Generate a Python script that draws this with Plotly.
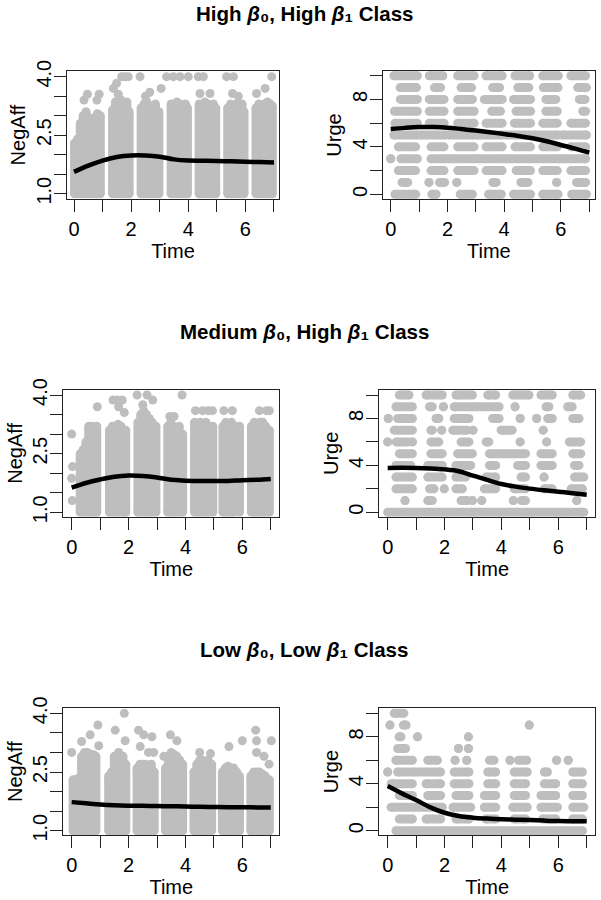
import plotly.graph_objects as go

# ---------------- data ----------------
TITLES = ["High", "Medium", "Low"]
TITLE_B1 = ["High", "High", "Low"]

TIME_TICKS = [0, 1, 2, 3, 4, 5, 6, 7]
TIME_LABEL_VALS = [0, 2, 4, 6]
TIME_LABELS = ["0", "2", "4", "6"]
NEG_TICKS = [1.0, 1.5, 2.0, 2.5, 3.0, 3.5, 4.0]
NEG_LABEL_VALS = [1.0, 2.5, 4.0]
NEG_LABELS = ["1.0", "2.5", "4.0"]
URGE_TICKS = [0, 2, 4, 6, 8, 10]
URGE_LABEL_VALS = [0, 4, 8]
URGE_LABELS = ["0", "4", "8"]

# smoothed trajectories (read at t = 0, 0.5, ..., 7)
FIT_T = [0, 0.5, 1, 1.5, 2, 2.5, 3, 3.5, 4, 4.5, 5, 5.5, 6, 6.5, 7]
HH_NEG_FIT = [1.56, 1.72, 1.85, 1.94, 1.98, 1.98, 1.95, 1.88, 1.85, 1.845, 1.84, 1.83, 1.82, 1.81, 1.80]
HH_URGE_FIT = [5.5, 5.6, 5.67, 5.67, 5.62, 5.5, 5.37, 5.23, 5.08, 4.92, 4.72, 4.47, 4.16, 3.85, 3.51]
MH_NEG_FIT = [1.63, 1.75, 1.84, 1.91, 1.94, 1.93, 1.89, 1.83, 1.81, 1.80, 1.80, 1.80, 1.82, 1.83, 1.85]
MH_URGE_FIT = [3.78, 3.79, 3.78, 3.74, 3.66, 3.5, 3.13, 2.76, 2.41, 2.19, 2.02, 1.88, 1.76, 1.63, 1.5]
LL_NEG_FIT = [1.73, 1.70, 1.67, 1.65, 1.64, 1.635, 1.63, 1.625, 1.62, 1.61, 1.605, 1.60, 1.60, 1.595, 1.59]
LL_URGE_FIT = [3.8, 3.18, 2.61, 1.99, 1.53, 1.25, 1.11, 1.03, 0.97, 0.94, 0.91, 0.86, 0.82, 0.81, 0.80]

# NegAff point clouds: dense columns (time, top value; each column spans down to 1.0) + isolated points
HH_NEG_COL_T = [0.02, 0.12, 0.22, 0.32, 0.42, 0.52, 0.62, 0.72, 0.82, 0.92,
                1.35, 1.45, 1.55, 1.65, 1.75, 1.85, 1.93,
                2.35, 2.45, 2.55, 2.65, 2.75, 2.85, 2.97,
                3.40, 3.50, 3.60, 3.70, 3.80, 3.90, 3.97,
                4.38, 4.48, 4.58, 4.68, 4.78, 4.88, 4.96,
                5.38, 5.48, 5.58, 5.68, 5.78, 5.88, 5.95,
                6.37, 6.47, 6.57, 6.67, 6.77, 6.87, 6.94]
HH_NEG_COL_TOP = [2.3, 2.4, 2.8, 3.0, 3.1, 2.95, 2.9, 2.95, 3.05, 3.0,
                  3.15, 3.35, 3.3, 3.4, 3.3, 3.35, 3.1,
                  3.2, 3.3, 3.35, 3.25, 3.2, 3.3, 3.1,
                  3.3, 3.25, 3.35, 3.3, 3.2, 3.3, 3.2,
                  3.3, 3.2, 3.35, 3.3, 3.25, 3.3, 3.2,
                  3.2, 3.3, 3.25, 3.3, 3.2, 3.3, 3.1,
                  3.2, 3.3, 3.25, 3.3, 3.35, 3.3, 3.25]
HH_NEG_PT_T = [0.35, 0.47, 0.80, 0.88, 1.38, 1.49, 1.55, 1.67, 1.78, 1.90, 2.31, 2.50, 2.65,
               3.05, 3.24, 3.48, 3.71, 4.00, 4.35, 4.53, 4.41, 4.76, 5.34, 5.58, 5.55, 5.75,
               6.39, 6.69, 6.92]
HH_NEG_PT_V = [3.4, 3.55, 3.4, 3.55, 3.7, 3.83, 3.55, 4.0, 4.0, 4.0, 4.0, 3.5, 3.6,
               3.7, 4.0, 4.0, 4.0, 4.0, 4.0, 4.0, 3.57, 3.57, 4.0, 4.0, 3.57, 3.5,
               3.57, 3.7, 4.0]

MH_NEG_COL_T = [0.30, 0.40, 0.50, 0.60, 0.70, 0.80, 0.88,
                1.33, 1.43, 1.53, 1.63, 1.73, 1.83, 1.90,
                2.33, 2.43, 2.53, 2.63, 2.73, 2.83, 2.96,
                3.38, 3.48, 3.58, 3.68, 3.78, 3.90,
                4.32, 4.42, 4.52, 4.62, 4.72, 4.82, 4.96,
                5.32, 5.42, 5.52, 5.62, 5.72, 5.90,
                6.32, 6.42, 6.52, 6.62, 6.72, 6.82, 6.95]
MH_NEG_COL_TOP = [2.5, 2.6, 2.8, 3.2, 3.2, 3.15, 3.2,
                  3.1, 3.2, 3.15, 3.25, 3.2, 3.1, 3.1,
                  3.3, 3.5, 3.6, 3.5, 3.4, 3.3, 3.2,
                  3.2, 3.3, 3.2, 3.1, 3.2, 3.0,
                  3.3, 3.2, 3.3, 3.25, 3.3, 3.2, 3.2,
                  3.2, 3.3, 3.25, 3.3, 3.2, 3.2,
                  3.2, 3.3, 3.25, 3.3, 3.3, 3.2, 3.1]
MH_NEG_PT_T = [0.0, 0.03, 0.0, 0.02, 0.90, 1.45, 1.60, 1.78, 1.65, 1.85, 2.30, 2.65, 2.85, 2.50,
               3.88, 3.45, 3.60, 4.35, 4.60, 4.80, 4.95, 5.35, 5.65, 6.60, 6.85, 6.95]
MH_NEG_PT_V = [3.0, 2.17, 1.87, 1.3, 3.7, 3.87, 3.87, 3.87, 3.7, 3.55, 4.0, 4.0, 3.87, 3.75,
               4.0, 3.45, 3.45, 3.6, 3.6, 3.6, 3.6, 3.6, 3.6, 3.6, 3.6, 3.6]

LL_NEG_COL_T = [0.05, 0.15, 0.25, 0.35, 0.45, 0.55, 0.65, 0.75, 0.85,
                1.30, 1.40, 1.50, 1.60, 1.70, 1.80, 1.90,
                2.30, 2.40, 2.50, 2.60, 2.70, 2.80, 2.90,
                3.30, 3.40, 3.50, 3.60, 3.70, 3.80, 3.90,
                4.30, 4.40, 4.50, 4.60, 4.70, 4.80, 4.92,
                5.30, 5.40, 5.50, 5.60, 5.70, 5.80, 5.90,
                6.30, 6.40, 6.50, 6.60, 6.70, 6.80, 6.95]
LL_NEG_COL_TOP = [2.3, 2.3, 2.35, 2.9, 3.0, 3.0, 2.95, 2.95, 2.9,
                  2.4, 2.5, 2.9, 2.9, 2.85, 2.9, 2.7,
                  2.6, 2.7, 2.7, 2.7, 2.6, 2.7, 2.5,
                  2.6, 2.9, 3.0, 2.95, 2.9, 2.8, 2.7,
                  2.5, 2.7, 2.8, 2.8, 2.75, 2.8, 2.7,
                  2.5, 2.6, 2.65, 2.6, 2.6, 2.5, 2.4,
                  2.4, 2.5, 2.5, 2.5, 2.45, 2.4, 2.3]
LL_NEG_PT_T = [0.0, 0.35, 0.65, 0.92, 0.95, 1.53, 1.85, 1.88, 1.65, 2.35, 2.53, 2.82, 2.70, 2.41, 2.88,
               3.47, 3.70, 3.24, 4.50, 4.88, 5.53, 6.00, 6.47, 6.50, 6.50, 6.76, 6.94, 7.02]
LL_NEG_PT_V = [3.0, 3.28, 3.45, 3.7, 3.17, 3.57, 4.0, 3.3, 3.0, 3.57, 3.45, 3.4, 3.0, 3.15, 3.0,
               3.45, 3.3, 2.9, 3.0, 2.97, 3.15, 3.3, 3.57, 3.3, 3.0, 2.9, 2.7, 3.3]

# Urge point rows: level, first and last time of each run of overlapping points
HH_URGE_LVL = [10]*7 + [9]*7 + [8]*7 + [7]*7 + [6]*7 + [5]*7 + [4]*7 + [3]*8 + [2]*7 + [1]*8 + [0]*7
HH_URGE_T0 = [0.11, 1.36, 2.36, 3.36, 4.38, 5.36, 6.35,
              0.33, 1.54, 2.48, 3.59, 4.48, 5.38, 6.59,
              0.34, 1.36, 2.36, 3.30, 4.33, 5.47, 6.65,
              0.13, 1.36, 2.36, 3.56, 4.42, 5.47, 6.77,
              0.15, 1.36, 2.36, 3.36, 4.36, 5.36, 6.35,
              0.11, 1.05, 2.05, 3.05, 4.05, 5.05, 6.05,
              0.27, 1.42, 2.36, 3.36, 4.38, 5.36, 6.35,
              0.00, 0.36, 1.42, 2.05, 3.05, 4.05, 5.05, 6.05,
              0.27, 1.42, 2.36, 3.36, 4.42, 5.36, 6.35,
              0.40, 1.35, 1.72, 2.33, 3.60, 4.59, 5.85, 6.55,
              0.15, 1.45, 2.45, 3.45, 4.33, 5.36, 6.38]
HH_URGE_T1 = [0.94, 1.84, 2.94, 3.93, 4.90, 5.91, 6.87,
              0.91, 1.76, 2.85, 3.84, 4.87, 5.90, 6.90,
              0.94, 1.88, 2.88, 3.93, 4.93, 5.82, 6.85,
              0.94, 1.88, 2.94, 3.87, 4.93, 5.87, 6.87,
              0.94, 1.88, 2.94, 3.93, 4.93, 5.87, 6.87,
              0.94, 1.93, 2.94, 3.93, 4.93, 5.90, 6.90,
              0.88, 1.88, 2.94, 3.93, 4.93, 5.87, 6.87,
              0.00, 0.94, 1.95, 2.95, 3.95, 4.95, 5.95, 6.87,
              0.88, 1.88, 2.94, 3.93, 4.93, 5.87, 6.87,
              0.60, 1.35, 1.90, 2.33, 3.72, 4.84, 5.85, 6.87,
              0.88, 1.60, 2.88, 3.90, 4.93, 5.90, 6.90]

MH_URGE_LVL = ([10]*7 + [9]*8 + [8]*9 + [7]*7 + [6]*9 + [5]*6 + [4]*7 + [3]*7 + [2]*8 + [1]*8 + [0]*7)
MH_URGE_T0 = [0.41, 1.35, 2.40, 3.52, 4.40, 5.39, 6.51,
              0.29, 1.47, 1.96, 2.34, 3.10, 4.48, 5.57, 6.33,
              0.02, 0.35, 1.70, 2.34, 3.69, 4.66, 5.24, 5.63, 6.51,
              0.23, 1.52, 1.90, 2.29, 3.00, 3.99, 5.47,
              0.00, 0.30, 0.87, 1.52, 2.58, 3.46, 4.66, 5.59, 6.39,
              0.41, 1.52, 2.46, 3.58, 5.39, 6.51,
              0.29, 1.41, 2.40, 3.58, 4.57, 5.39, 6.57,
              0.29, 1.41, 2.40, 3.46, 4.69, 5.50, 6.57,
              0.29, 1.47, 1.99, 2.40, 3.40, 4.45, 5.51, 6.45,
              0.61, 1.41, 2.58, 2.98, 3.31, 4.42, 4.70, 6.65,
              0.00, 1.05, 2.05, 3.05, 4.05, 5.05, 6.05]
MH_URGE_T1 = [0.75, 1.92, 2.98, 3.80, 4.97, 5.79, 6.79,
              0.87, 1.57, 1.96, 3.00, 3.92, 4.48, 5.67, 6.49,
              0.02, 0.87, 1.80, 2.86, 3.92, 4.66, 5.24, 5.79, 6.73,
              0.87, 1.57, 1.90, 2.80, 3.00, 4.38, 5.47,
              0.00, 0.72, 0.87, 1.80, 2.86, 3.56, 4.66, 5.59, 6.79,
              0.87, 1.92, 2.98, 4.85, 5.79, 6.79,
              0.81, 1.92, 2.92, 3.80, 4.85, 5.79, 6.73,
              0.87, 1.92, 2.74, 3.80, 4.85, 5.50, 6.90,
              0.87, 1.63, 1.99, 2.63, 3.80, 4.85, 5.79, 6.85,
              0.61, 1.57, 2.80, 2.98, 3.31, 4.42, 4.85, 6.65,
              0.95, 1.95, 2.95, 3.95, 4.95, 5.95, 6.90]

LL_URGE_LVL = ([10] + [9]*3 + [8]*3 + [7]*3 + [6]*9 + [5]*7 + [4]*7 + [3]*7 + [2]*6 + [1]*7 + [0]*7)
LL_URGE_T0 = [0.23,
              0.08, 0.55, 4.98,
              0.40, 1.05, 2.84,
              0.35, 2.49, 2.84,
              0.29, 1.41, 2.37, 2.78, 3.58, 4.30, 4.60, 5.94, 6.35,
              0.00, 0.35, 2.34, 3.52, 4.45, 5.51, 6.51,
              0.12, 1.35, 2.34, 3.52, 4.45, 5.51, 6.51,
              0.41, 1.41, 2.40, 3.40, 4.45, 5.39, 6.51,
              0.12, 2.30, 3.40, 4.40, 5.39, 6.51,
              0.41, 1.35, 2.40, 3.46, 4.45, 5.45, 6.51,
              0.29, 1.05, 2.05, 3.05, 4.05, 5.05, 6.05]
LL_URGE_T1 = [0.57,
              0.08, 0.65, 4.98,
              0.47, 1.05, 2.84,
              0.63, 2.49, 2.84,
              0.87, 1.75, 2.37, 2.78, 3.74, 4.30, 4.89, 5.94, 6.35,
              0.00, 1.86, 2.86, 3.80, 4.91, 5.62, 6.85,
              0.87, 1.86, 2.86, 3.80, 4.85, 5.91, 6.85,
              0.87, 1.86, 2.86, 3.80, 4.85, 5.91, 6.85,
              1.92, 2.92, 3.80, 4.91, 5.97, 6.90,
              0.87, 1.86, 2.86, 3.80, 4.85, 5.91, 6.85,
              0.95, 1.95, 2.95, 3.95, 4.95, 5.95, 6.85]

# ---------------- styling / layout ----------------
W, H = 601, 900
GRAY = "#BEBEBE"
AXC = "#222222"
FONT = "Liberation Sans, Arial, Helvetica, sans-serif"
DOT = 9

# pixel boxes: (left, right, top, bottom), axis ranges
PANELS = [
    dict(box=(66.7, 279.3, 71, 199), xr=(-0.256, 7.186), yr=(0.864, 4.146), kind="neg",
         col_t=HH_NEG_COL_T, col_top=HH_NEG_COL_TOP, pt_t=HH_NEG_PT_T, pt_v=HH_NEG_PT_V, fit=HH_NEG_FIT),
    dict(box=(382.7, 595, 71, 199), xr=(-0.282, 7.201), yr=(-0.396, 10.396), kind="urge",
         lvl=HH_URGE_LVL, t0=HH_URGE_T0, t1=HH_URGE_T1, fit=HH_URGE_FIT),
    dict(box=(63.3, 279.3, 390, 516.7), xr=(-0.295, 7.30), yr=(0.8875, 4.128), kind="neg",
         col_t=MH_NEG_COL_T, col_top=MH_NEG_COL_TOP, pt_t=MH_NEG_PT_T, pt_v=MH_NEG_PT_V, fit=MH_NEG_FIT),
    dict(box=(379.3, 595, 390, 516.7), xr=(-0.295, 7.292), yr=(-0.375, 10.426), kind="urge",
         lvl=MH_URGE_LVL, t0=MH_URGE_T0, t1=MH_URGE_T1, fit=MH_URGE_FIT),
    dict(box=(63.3, 279.3, 708.3, 835), xr=(-0.295, 7.30), yr=(0.89, 4.128), kind="neg",
         col_t=LL_NEG_COL_T, col_top=LL_NEG_COL_TOP, pt_t=LL_NEG_PT_T, pt_v=LL_NEG_PT_V, fit=LL_NEG_FIT),
    dict(box=(379.3, 595, 708.3, 835), xr=(-0.295, 7.292), yr=(-0.366, 10.43), kind="urge",
         lvl=LL_URGE_LVL, t0=LL_URGE_T0, t1=LL_URGE_T1, fit=LL_URGE_FIT),
]
TITLE_Y = [13, 331, 649]
XTITLE_STANDOFF = [0, 2, 3]

fig = go.Figure()
layout = dict(width=W, height=H, margin=dict(l=0, r=0, t=0, b=0),
              paper_bgcolor="white", plot_bgcolor="white", showlegend=False,
              font=dict(family=FONT, color="black", size=20))
annotations = []
tfont = dict(size=20, family=FONT, color="black")

for i, p in enumerate(PANELS):
    n = "" if i == 0 else str(i + 1)
    xa, ya = "x" + n, "y" + n
    l, r, t, b = p["box"]
    if p["kind"] == "neg":
        xs, ys = [], []
        for ct, top in zip(p["col_t"], p["col_top"]):
            xs += [ct, ct, None]
            ys += [1.0, top, None]
        fig.add_trace(go.Scatter(x=xs, y=ys, mode="lines+markers", xaxis=xa, yaxis=ya,
                                 line=dict(color=GRAY, width=DOT), marker=dict(color=GRAY, size=DOT),
                                 hoverinfo="skip"))
        fig.add_trace(go.Scatter(x=p["pt_t"], y=p["pt_v"], mode="markers", xaxis=xa, yaxis=ya,
                                 marker=dict(color=GRAY, size=DOT), hoverinfo="skip"))
        ticks, lvals, labels, ytitle = NEG_TICKS, NEG_LABEL_VALS, NEG_LABELS, "NegAff"
    else:
        xs, ys = [], []
        for lv, s, e in zip(p["lvl"], p["t0"], p["t1"]):
            xs += [s, e, None]
            ys += [lv, lv, None]
        fig.add_trace(go.Scatter(x=xs, y=ys, mode="lines+markers", xaxis=xa, yaxis=ya,
                                 line=dict(color=GRAY, width=DOT), marker=dict(color=GRAY, size=DOT),
                                 hoverinfo="skip"))
        ticks, lvals, labels, ytitle = URGE_TICKS, URGE_LABEL_VALS, URGE_LABELS, "Urge"
    fig.add_trace(go.Scatter(x=FIT_T, y=p["fit"], mode="lines", xaxis=xa, yaxis=ya,
                             line=dict(color="black", width=4.5, shape="spline", smoothing=1.0),
                             hoverinfo="skip"))

    common = dict(showline=True, linecolor=AXC, linewidth=1, mirror=True, showgrid=False,
                  zeroline=False, ticks="outside", ticklen=12, tickwidth=1, tickcolor=AXC,
                  tickfont=tfont, automargin=False, fixedrange=True)
    row = i // 2
    layout["xaxis" + n] = dict(domain=[l / W, r / W], range=list(p["xr"]), anchor=ya,
                               tickmode="array", tickvals=TIME_LABEL_VALS, ticktext=TIME_LABELS,
                               minor=dict(tickmode="array", tickvals=TIME_TICKS, ticks="outside",
                                          ticklen=12, tickwidth=1, tickcolor=AXC, showgrid=False),
                               tickangle=0,
                               title=dict(text="Time", font=tfont, standoff=XTITLE_STANDOFF[row]),
                               **common)
    layout["yaxis" + n] = dict(domain=[1 - b / H, 1 - t / H], range=list(p["yr"]), anchor=xa,
                               tickmode="array", tickvals=lvals, ticktext=labels,
                               minor=dict(tickmode="array", tickvals=ticks, ticks="outside",
                                          ticklen=12, tickwidth=1, tickcolor=AXC, showgrid=False),
                               tickangle=-90, ticklabelstandoff=-5,
                               title=dict(text=ytitle, font=tfont, standoff=1),
                               **common)

for row in range(3):
    txt = f"<b>{TITLES[row]} <i>β</i>₀, {TITLE_B1[row]} <i>β</i>₁ Class</b>"
    annotations.append(dict(text=txt, x=304 / W, y=1 - TITLE_Y[row] / H, xref="paper", yref="paper",
                            showarrow=False, xanchor="center", yanchor="middle",
                            font=dict(size=20.5, family=FONT, color="black")))

layout["annotations"] = annotations
fig.update_layout(**layout)
fig.write_html("out.html", config={"displayModeBar": False},
               post_script="document.body.style.margin='0';document.body.style.overflow='hidden';")
